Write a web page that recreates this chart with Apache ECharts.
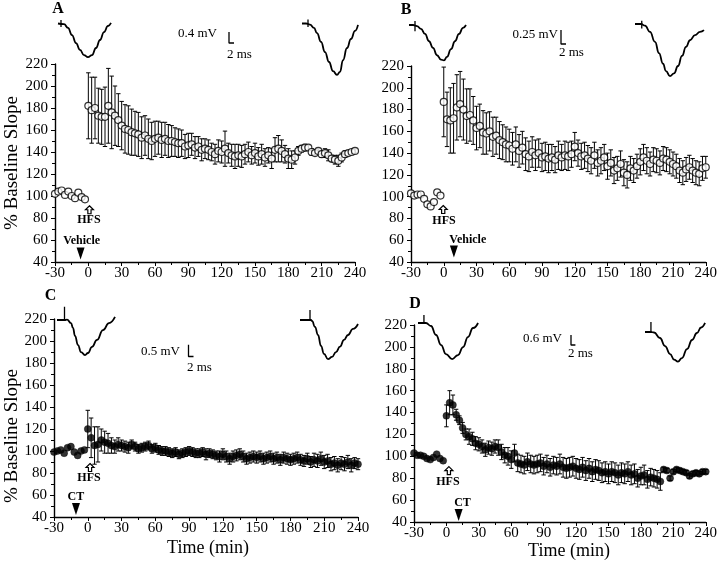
<!DOCTYPE html>
<html><head><meta charset="utf-8">
<script src="https://cdn.jsdelivr.net/npm/echarts@6.0.0/dist/echarts.min.js"></script>
<style>html,body{margin:0;padding:0;background:#fff}#c{width:720px;height:561px}</style>
</head><body><div id="c"></div>
<script>
// ---------------- DATA ----------------
const xTicks = [-30, 0, 30, 60, 90, 120, 150, 180, 210, 240];
const yTicks = [40, 60, 80, 100, 120, 140, 160, 180, 200, 220];
const preTime = [-30,-27,-24,-21,-18,-15,-12,-9,-6,-3];
const postTime = [0,3,6,9,12,15,18,21,24,27,30,33,36,39,42,45,48,51,54,57,60,63,66,69,72,75,78,81,84,87,90,93,96,99,102,105,108,111,114,117,120,123,126,129,132,135,138,141,144,147,150,153,156,159,162,165,168,171,174,177,180,183,186,189,192,195,198,201,204,207,210,213,216,219,222,225,228,231,234,237,240];

const aPre = [102,104,105,101,104,100,98,103,99,97];
const aPost = [182,178,180,173,172,172,182,176,173,169,
 164,161,160,158,157,156,153,155,152,150,
 152,153,151,152,150,150,149,148,148,145,
 146,147,144,145,142,143,142,140,138,141,
 140,143,139,137,136,137,136,138,140,137,
 139,136,138,135,137,134,142,143,141,138,
 134,133,135,141,143,144,144,140,139,141,
 138,139,137,134,133,132,135,138,139,140,
 141];
const aErr = [30,30,28,25,25,27,34,33,27,24,
 22,22,22,21,20,20,19,18,18,17,
 16,15,16,15,15,14,13,13,12,11,
 11,10,10,9,10,9,9,8,9,10,
 10,16,9,10,11,10,10,9,9,8,
 9,8,9,8,7,9,11,12,10,8,
 9,8,6,4,3,3,2,3,2,2,
 3,4,5,3,4,5,4,3,2,2,
 2];

const bPre = [103,101,102,102,98,93,91,95,104,101];
const bPost = [187,171,170,172,182,185,180,174,175,170,
 163,165,159,158,160,155,156,152,150,148,
 147,144,148,142,145,139,137,141,138,140,
 136,137,135,136,134,138,136,138,137,139,
 146,140,137,138,135,133,138,131,133,136,
 128,131,124,126,130,122,120,126,124,128,
 132,136,133,130,134,133,131,135,134,132,
 130,128,124,122,125,127,124,122,121,126,
 127];
const bErr = [32,25,30,32,30,30,28,25,24,22,
 20,20,20,19,18,18,17,17,16,16,
 15,15,16,15,15,15,14,14,14,13,
 13,13,13,12,12,13,12,13,13,12,
 13,12,12,12,12,12,12,12,12,12,
 12,12,12,11,12,12,12,11,11,11,
 12,12,12,11,11,11,11,11,11,11,
 11,11,11,11,11,11,11,11,11,11,
 10];

const cPre = [99,100,101,98,103,104,99,96,100,101];
const cPost = [120,112,105,106,110,108,107,105,104,106,
 105,104,103,106,104,102,103,104,105,102,
 103,101,100,100,99,98,99,97,98,99,
 100,99,98,98,99,97,98,97,96,95,
 97,95,93,95,96,97,95,93,94,95,
 94,95,93,94,95,93,94,92,94,93,
 92,93,94,92,91,93,90,92,91,93,
 90,91,88,89,87,89,88,90,87,89,
 88];
const cErr = [17,18,17,16,10,10,9,7,6,6,
 5,5,5,4,4,4,4,4,4,4,
 4,4,4,4,4,4,4,4,4,4,
 4,4,4,4,4,5,4,4,4,5,
 5,5,5,5,5,5,5,5,5,5,
 5,5,5,5,5,5,5,5,5,5,
 5,5,5,5,5,5,5,6,6,6,
 6,6,6,6,6,6,6,6,6,5,
 5];

const dPre = [103,101,101,100,98,97,99,102,98,96];
const dPost = [137,149,147,138,133,126,120,118,116,112,
 111,109,106,108,107,109,108,104,101,100,
 97,103,94,93,92,95,93,92,93,94,
 91,93,90,92,91,93,90,89,90,91,
 89,88,90,87,89,86,88,87,85,86,
 84,86,85,83,85,84,86,83,84,80,
 82,83,79,81,80,79,77,88,87,80,
 86,88,87,86,85,82,84,85,84,86,
 86];
const dErr = [10,11,9,5,4,5,5,7,6,6,
 6,6,6,6,6,6,7,7,7,8,
 8,8,8,8,8,8,8,8,8,8,
 8,8,8,8,8,9,9,9,9,9,
 9,9,9,9,9,9,9,9,9,9,
 9,9,9,9,9,9,9,9,9,8,
 8,9,8,8,8,8,8,2,2,2,
 2,2,2,2,2,2,2,2,2,2,
 2];

// Inset fEPSP traces: [ms, mV]
const traceA1 = [[0,0],[2.4,-0.02],[4,-0.16],[5.6,-0.42],[7.2,-0.71],[8.8,-0.96],[10.4,-1.15],[12,-1.22],[13.6,-1.15],[15.2,-0.89],[16.8,-0.6],[18.4,-0.31],[20,-0.09],[21.2,0.02]];
const artA1 = [[1.2,0.13],[1.2,-0.13]];
const traceA2 = [[0,0],[1.6,0],[3.2,-0.04],[4.8,-0.16],[6,-0.35],[7.6,-0.67],[9.2,-1.04],[10.8,-1.4],[12.4,-1.73],[14,-1.87],[15.2,-1.76],[16.4,-1.33],[18,-0.89],[19.6,-0.56],[21.2,-0.27],[22.4,-0.05]];
const artA2 = [[2.4,0.15],[2.4,-0.13]];
const traceB1 = [[0,0],[1.6,0],[3.2,-0.02],[4.8,-0.07],[6.4,-0.16],[8,-0.29],[9.6,-0.41],[11.2,-0.54],[12.8,-0.62],[14,-0.63],[15.2,-0.57],[16.8,-0.43],[18.4,-0.29],[20,-0.16],[21.6,-0.05],[22.8,0]];
const artB1 = [[2.4,0.07],[2.4,-0.11]];
const traceB2 = [[0,0],[2.4,0],[4,-0.03],[6,-0.14],[8,-0.32],[9.6,-0.52],[11.2,-0.71],[12.4,-0.84],[14,-0.93],[15.6,-0.88],[17.2,-0.75],[18.8,-0.57],[20.4,-0.41],[22,-0.29],[24,-0.2],[26,-0.14],[27.6,-0.11]];
const artB2 = [[2.7,0.06],[2.7,-0.08]];
const traceC1 = [[0,0],[3.4,0],[4,0.02],[5.6,-0.13],[6.4,-0.34],[7.2,-0.68],[8.4,-1.07],[9.6,-1.37],[11.2,-1.5],[12.4,-1.41],[14,-1.15],[16,-0.85],[18.4,-0.43],[20.8,-0.13],[23.2,0.13]];
const artC1 = [[3.0,0],[3.0,0.57]];
const traceC2 = [[0,0],[4.4,0],[4.8,-0.04],[6,-0.29],[7.2,-0.64],[8.4,-1.11],[9.6,-1.45],[11.2,-1.67],[12.8,-1.58],[14.4,-1.37],[16,-1.14],[17.6,-0.85],[19.2,-0.64],[21.2,-0.38],[23.2,-0.17]];
const artC2 = [[4,0],[4,0.43]];
const traceD1 = [[0,0],[3.6,0],[5.9,-0.18],[8.2,-0.72],[10.5,-1.32],[12.7,-1.86],[15.5,-2.16],[18.2,-1.92],[20.5,-1.44],[22.7,-0.84],[25,-0.3],[27.3,0]];
const artD1 = [[2.7,0],[2.7,0.48]];
const traceD2 = [[0,0],[2.7,0],[4.1,-0.03],[6.8,-0.36],[9.1,-0.84],[11.4,-1.32],[13.2,-1.65],[15,-1.77],[16.8,-1.56],[19.1,-1.02],[21.4,-0.48],[23.6,-0.06],[25.5,0.27],[27.3,0.54]];
const artD2 = [[2.7,0],[2.7,0.6]];

const scaleBars = [
  {mV:0.4, ms:2, mVText:'0.4 mV'},
  {mV:0.25, ms:2, mVText:'0.25 mV'},
  {mV:0.5, ms:2, mVText:'0.5 mV'},
  {mV:0.6, ms:2, mVText:'0.6 mV'}
];
const panelLetters = ['A','B','C','D'];
const drugNames = ['Vehicle','Vehicle','CT','CT'];

// ---------------- LAYOUT ----------------
const FONT = '"Liberation Serif","Times New Roman",serif';
const panels = [
  {pre:aPre, post:aPost, err:aErr, open:true, grid:{left:55, top:64, width:300, height:198},
   arrow:[1,87.5], hfs:[0.5,78], tri:[-7,47.7], drug:[-6,59]},
  {pre:bPre, post:bPost, err:bErr, open:true, grid:{left:411, top:66, width:296, height:196},
   arrow:[-0.5,88.2], hfs:[0.2,78.1], tri:[9.3,49.6], drug:[22,60.2]},
  {pre:cPre, post:cPost, err:cErr, open:false, grid:{left:54, top:319, width:304, height:198},
   arrow:[2,85], hfs:[1.1,75.5], tri:[-10.5,47.3], drug:[-10.5,58.5]},
  {pre:dPre, post:dPost, err:dErr, open:false, grid:{left:414, top:325, width:301, height:197},
   arrow:[2.3,87], hfs:[1.4,76.8], tri:[11.3,46.4], drug:[14.9,57.6]}
];
// trace placement: baseline start pixel + scale (px per ms, px per mV)
const traceLayout = [
  {d:traceA1, a:artA1, x0:58, y0:23.5, kx:2.5, ky:27.5},
  {d:traceA2, a:artA2, x0:302, y0:23.5, kx:2.5, ky:27.5},
  {d:traceB1, a:artB1, x0:409, y0:25, kx:2.5, ky:56},
  {d:traceB2, a:artB2, x0:635, y0:24, kx:2.5, ky:56},
  {d:traceC1, a:artC1, x0:57, y0:320, kx:2.5, ky:23.4},
  {d:traceC2, a:artC2, x0:300, y0:320, kx:2.5, ky:23.4},
  {d:traceD1, a:artD1, x0:418, y0:323, kx:2.2, ky:16.7},
  {d:traceD2, a:artD2, x0:645, y0:332, kx:2.2, ky:16.7}
];
const barLayout = [
  {cx:229, cy:43, kx:2.5, ky:27.5, tx:217, ty:33.5, mx:227, my:54.5},
  {cx:561, cy:44, kx:2.5, ky:56, tx:558, ty:34.5, mx:559, my:53},
  {cx:188.5, cy:356.5, kx:2.5, ky:23.4, tx:180, ty:351.5, mx:187, my:367.5},
  {cx:571, cy:345, kx:2.2, ky:16.7, tx:562, ty:338.5, mx:568, my:354}
];
const letterPos = [[58,9],[406,10],[50.5,296],[415,304]];

const grids = [], xAxes = [], yAxes = [], series = [];
function axisCommon(){
  return {
    axisLine:{onZero:false, lineStyle:{color:'#000', width:1.4}},
    axisTick:{length:4, lineStyle:{color:'#000', width:1}},
    minorTick:{show:true, splitNumber:2, length:3, lineStyle:{color:'#000', width:1}},
    splitLine:{show:false}
  };
}

function errRender(params, api){
  const x = api.value(0), y = api.value(1), e = api.value(2);
  const top = api.coord([x, y + e]), bot = api.coord([x, y - e]);
  const hw = 2.2, st = {stroke:'#000', lineWidth:1};
  return {type:'group', children:[
    {type:'line', shape:{x1:top[0], y1:top[1], x2:bot[0], y2:bot[1]}, style:st},
    {type:'line', shape:{x1:top[0]-hw, y1:top[1], x2:top[0]+hw, y2:top[1]}, style:st},
    {type:'line', shape:{x1:bot[0]-hw, y1:bot[1], x2:bot[0]+hw, y2:bot[1]}, style:st}
  ]};
}

const arrowPath = 'path://M5 0 L10 5 L7 5 L7 10 L3 10 L3 5 L0 5 Z';
function textPoint(coord, txt){
  return {coord:coord, symbol:'rect', symbolSize:1, itemStyle:{color:'rgba(0,0,0,0)'},
    label:{show:true, position:'inside', formatter:txt, color:'#000', fontFamily:FONT, fontWeight:'bold', fontSize:12}};
}

panels.forEach((p, i) => {
  grids.push(Object.assign({containLabel:false}, p.grid));
  xAxes.push(Object.assign({gridIndex:i, type:'value', min:xTicks[0], max:xTicks[xTicks.length-1], interval:30,
    axisLabel:{color:'#000', fontFamily:FONT, fontSize:15, margin:4}}, axisCommon()));
  yAxes.push(Object.assign({gridIndex:i, type:'value', min:yTicks[0], max:yTicks[yTicks.length-1], interval:20,
    axisLabel:{color:'#000', fontFamily:FONT, fontSize:15, margin:7}}, axisCommon()));
  const errData = postTime.map((t, k) => [t, p.post[k], p.err[k]]);
  series.push({type:'custom', xAxisIndex:i, yAxisIndex:i, renderItem:errRender, data:errData,
    encode:{x:0, y:1}, z:2, silent:true});
  const pts = preTime.map((t, k) => [t, p.pre[k]]).concat(postTime.map((t, k) => [t, p.post[k]]));
  series.push({type:'scatter', xAxisIndex:i, yAxisIndex:i, data:pts, symbol:'circle', symbolSize:7, z:3,
    itemStyle: p.open ? {color:'#fff', borderColor:'#000', borderWidth:1.2} : {color:'#000', borderColor:'#000', borderWidth:0.5},
    markPoint:{silent:true, animation:false, data:[
      {coord:p.arrow, symbol:arrowPath, symbolSize:[8,8], itemStyle:{color:'#fff', borderColor:'#000', borderWidth:1.2}, label:{show:false}},
      textPoint(p.hfs, 'HFS'),
      {coord:p.tri, symbol:'triangle', symbolRotate:180, symbolSize:[8,12], itemStyle:{color:'#000'}, label:{show:false}},
      textPoint(p.drug, drugNames[i])
    ]}
  });
});

let gi = panels.length;
traceLayout.forEach((tl) => {
  const all = tl.d.concat(tl.a);
  const xmax = Math.max(...all.map(v => v[0])) + 1;
  const ymin = Math.min(...all.map(v => v[1])) - 0.1;
  const ymax = Math.max(...all.map(v => v[1])) + 0.1;
  grids.push({left: tl.x0, top: tl.y0 - ymax*tl.ky, width: xmax*tl.kx, height:(ymax-ymin)*tl.ky, show:false});
  xAxes.push({gridIndex:gi, type:'value', min:0, max:xmax, show:false});
  yAxes.push({gridIndex:gi, type:'value', min:ymin, max:ymax, show:false});
  series.push({type:'line', xAxisIndex:gi, yAxisIndex:gi, data:tl.d, smooth:0.5, smoothMonotone:'x', showSymbol:false,
    lineStyle:{color:'#000', width:1.8}, silent:true});
  series.push({type:'line', xAxisIndex:gi, yAxisIndex:gi, data:tl.a, showSymbol:false,
    lineStyle:{color:'#000', width:1.3}, silent:true});
  gi++;
});

const graphics = [];
barLayout.forEach((bl, i) => {
  const sb = scaleBars[i];
  grids.push({left: bl.cx, top: bl.cy - sb.mV*bl.ky, width: sb.ms*bl.kx, height: sb.mV*bl.ky, show:false});
  xAxes.push({gridIndex:gi, type:'value', min:0, max:sb.ms, show:false});
  yAxes.push({gridIndex:gi, type:'value', min:0, max:sb.mV, show:false});
  series.push({type:'line', xAxisIndex:gi, yAxisIndex:gi, data:[[0,sb.mV],[0,0],[sb.ms,0]], showSymbol:false,
    lineStyle:{color:'#000', width:1.3}, silent:true, clip:false});
  gi++;
  graphics.push({type:'text', x:bl.tx, y:bl.ty, style:{text:sb.mVText, fill:'#000', font:'13px ' + FONT,
    align:'right', verticalAlign:'middle', textAlign:'right', textVerticalAlign:'middle'}});
  graphics.push({type:'text', x:bl.mx, y:bl.my, style:{text:sb.ms + ' ms', fill:'#000', font:'13px ' + FONT,
    align:'left', verticalAlign:'middle', textAlign:'left', textVerticalAlign:'middle'}});
});
panelLetters.forEach((L, i) => {
  graphics.push({type:'text', x:letterPos[i][0], y:letterPos[i][1], style:{text:L, fill:'#000', font:'bold 16px ' + FONT,
    align:'center', verticalAlign:'middle', textAlign:'center', textVerticalAlign:'middle'}});
});
[[12.5,163],[12,436]].forEach(pos => {
  graphics.push({type:'text', x:pos[0], y:pos[1], rotation:Math.PI/2, style:{text:'% Baseline Slope', fill:'#000', font:'19px ' + FONT,
    align:'center', verticalAlign:'middle', textAlign:'center', textVerticalAlign:'middle'}});
});
[[208,548],[569,551.5]].forEach(pos => {
  graphics.push({type:'text', x:pos[0], y:pos[1], style:{text:'Time (min)', fill:'#000', font:'18px ' + FONT,
    align:'center', verticalAlign:'middle', textAlign:'center', textVerticalAlign:'middle'}});
});

const chart = echarts.init(document.getElementById('c'), null, {renderer:'canvas', width:720, height:561});
chart.setOption({
  backgroundColor:'#fff',
  animation:false,
  grid:grids, xAxis:xAxes, yAxis:yAxes, series:series, graphic:graphics
});
</script></body></html>
